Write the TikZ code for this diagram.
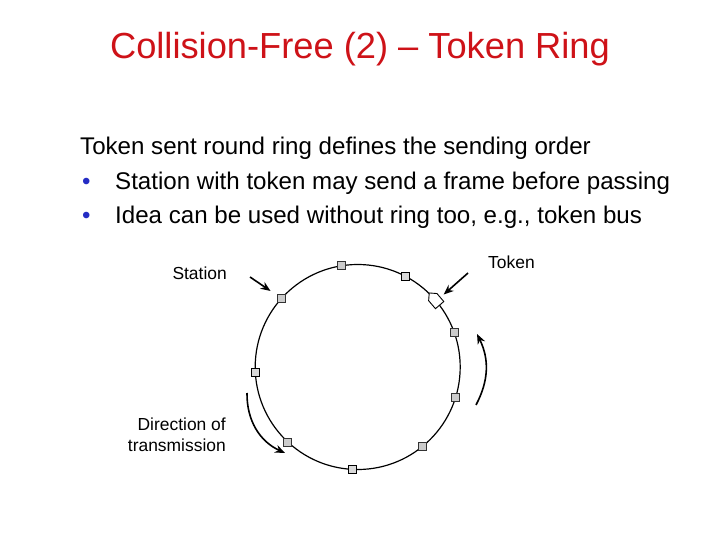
\documentclass[tikz,border=0pt]{standalone}
\usepackage{fontspec}
\setmainfont{Liberation Sans}
\usetikzlibrary{arrows.meta,shapes.symbols}
\definecolor{titlered}{RGB}{206,18,24}
\definecolor{bulletblue}{RGB}{36,44,196}

\begin{document}
\begin{tikzpicture}[
    x=1bp, y=-1bp,
    ttl/.style={font=\fontsize{36.4}{43}\selectfont, text=titlered, inner sep=0pt},
    body/.style={font=\fontsize{24.2}{29}\selectfont, inner sep=0pt, anchor=base west},
    blt/.style={body, text=bulletblue},
    lbl/.style={font=\fontsize{17.5}{21}\selectfont, inner sep=0pt},
    ring/.style={circle, draw, line width=1.2pt, minimum size=205bp, inner sep=0pt, outer sep=0pt},
    stn/.style={draw=black!80, fill=gray!40, line width=0.7pt, minimum size=8bp, inner sep=0pt},
    stndk/.style={stn, draw=black, fill=gray!30, line width=1.3pt},
    tok/.style={shape=signal, signal to=east, draw, fill=white, line width=0.9pt,
                minimum width=16bp, minimum height=11bp, inner sep=0pt},
    ptr/.style={-{Stealth[length=10bp, width=8bp]}, line width=1.6pt},
  ]
    \useasboundingbox[fill=white] (0,0) rectangle (720,540);

    % --- Title and text ---
    \node[ttl, anchor=base] (title) at (360,59) {Collision-Free (2) – Token Ring};
    \node[body] (l1) at (80,155) {Token sent round ring defines the sending order};
    \node[blt] (b2) at (82,190) {•};
    \node[body] (l2) at (115,190) {Station with token may send a frame before passing};
    \node[blt] (b3) at (82,224) {•};
    \node[body] (l3) at (115,224) {Idea can be used without ring too, e.g., token bus};

    % --- Ring with stations ---
    \node[ring] (rg) at (357.7,367) {};
    \foreach \a/\s [count=\i] in {99.6/stn, 62.1/stndk, 20.5/stn, -17.8/stn, -51.9/stn,
                                  -93.8/stndk, -133.7/stn, 183.2/stndk, 138.9/stn}
      \node[\s] (s\i) at (rg.\a) {};
    \node[tok, rotate=130.6] (tk) at (rg.40.6) {};

    % --- Labels and pointers ---
    \node[lbl, anchor=base east] (stlbl) at (227,280) {Station};
    \node[lbl, anchor=base west] (tklbl) at (488,269) {Token};
    \node[lbl, anchor=north east, align=right] (dirlbl) at (226,418) {Direction of\\transmission};
    \coordinate (sttail) at (250,277);
    \coordinate (tktail) at (468,273);
    \draw[ptr, shorten >=8bp] (sttail) -- (s9);
    \draw[ptr, shorten >=4bp] (tktail) -- (tk);

    % Direction of travel: right side upward, left side downward
    \coordinate (ra) at (476,405);
    \coordinate (rb) at (477,334);
    \coordinate (la) at (247,393);
    \coordinate (lb) at (285,453);
    \draw[ptr] (ra) to[bend right=27] (rb);
    \draw[ptr] (la) to[bend right=33] (lb);
  \end{tikzpicture}
\end{document}
